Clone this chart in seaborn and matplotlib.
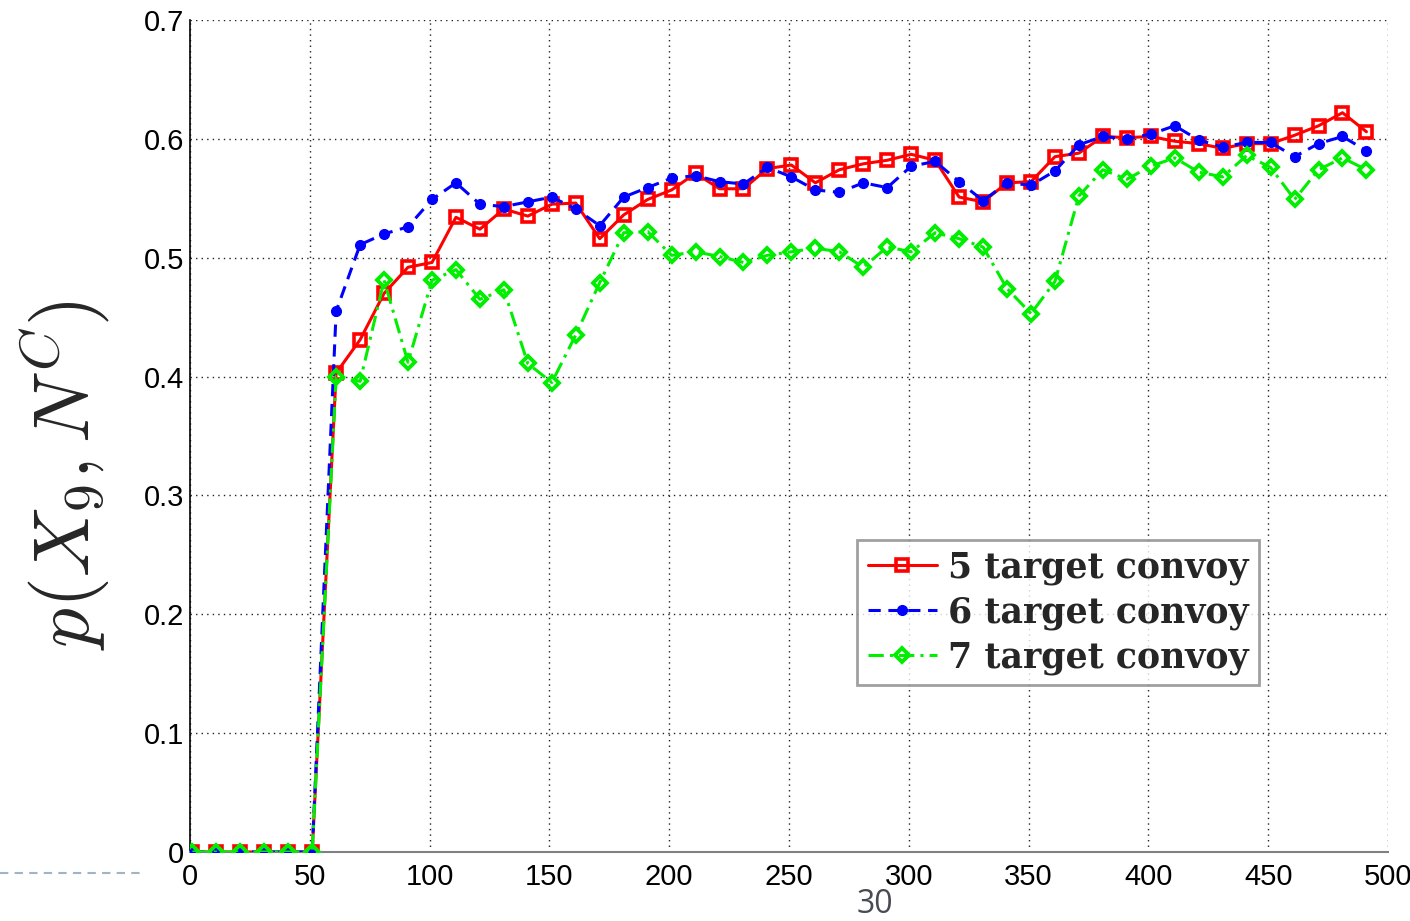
import numpy as np
import pandas as pd
import matplotlib
matplotlib.use("Agg")
import matplotlib.pyplot as plt
import seaborn as sns

# ---- data ----
time_steps = list(range(1, 492, 10))  # 1, 11, ..., 491
zeros = [0.0] * 6
convoy5 = zeros + [0.403, 0.431, 0.470, 0.492, 0.496, 0.534, 0.524, 0.541, 0.535, 0.545,
                   0.546, 0.516, 0.536, 0.549, 0.557, 0.571, 0.558, 0.558, 0.575, 0.578,
                   0.563, 0.574, 0.579, 0.582, 0.587, 0.582, 0.551, 0.547, 0.563, 0.564,
                   0.585, 0.588, 0.602, 0.601, 0.602, 0.598, 0.596, 0.592, 0.596, 0.596,
                   0.603, 0.611, 0.622, 0.606]
convoy6 = zeros + [0.455, 0.511, 0.520, 0.526, 0.549, 0.563, 0.545, 0.543, 0.547, 0.551,
                   0.541, 0.527, 0.551, 0.559, 0.567, 0.569, 0.564, 0.562, 0.576, 0.568,
                   0.557, 0.555, 0.563, 0.559, 0.577, 0.581, 0.564, 0.548, 0.563, 0.561,
                   0.573, 0.595, 0.602, 0.600, 0.604, 0.611, 0.599, 0.593, 0.597, 0.597,
                   0.585, 0.596, 0.602, 0.590]
convoy7 = zeros + [0.400, 0.396, 0.481, 0.412, 0.481, 0.490, 0.465, 0.473, 0.411, 0.395,
                   0.435, 0.479, 0.521, 0.522, 0.502, 0.505, 0.501, 0.496, 0.502, 0.505,
                   0.508, 0.505, 0.492, 0.509, 0.505, 0.521, 0.516, 0.509, 0.474, 0.453,
                   0.480, 0.552, 0.574, 0.566, 0.577, 0.584, 0.572, 0.568, 0.586, 0.576,
                   0.549, 0.574, 0.584, 0.574]
series_labels = ["5 target convoy", "6 target convoy", "7 target convoy"]
x_ticks = list(range(0, 501, 50))
y_ticks = [0, 0.1, 0.2, 0.3, 0.4, 0.5, 0.6, 0.7]
y_tick_labels = ["0", "0.1", "0.2", "0.3", "0.4", "0.5", "0.6", "0.7"]

sns.set_style("white")
plt.rcParams["font.family"] = ["Liberation Sans", "DejaVu Sans"]
plt.rcParams["mathtext.fontset"] = "cm"

fig = plt.figure(figsize=(14.1, 9.21), dpi=100)
ax = fig.add_axes([190 / 1410, 1 - 852 / 921, (1388 - 190) / 1410, (852 - 20) / 921])

styles = [
    dict(color="#ff0000", marker="s", linestyle="-", markersize=8.5, markerfacecolor="none",
         markeredgecolor="#ff0000", markeredgewidth=2.6, linewidth=2.2),
    dict(color="#0000ff", marker="o", linestyle=(0, (4, 2.5)), markersize=7, markerfacecolor="#0000ff",
         markeredgecolor="#0000ff", markeredgewidth=1, linewidth=2.2),
    dict(color="#00ee00", marker="D", linestyle=(0, (5, 2, 1, 2)), markersize=7.5, markerfacecolor="none",
         markeredgecolor="#00ee00", markeredgewidth=2.8, linewidth=2.2),
]
for vals, lab, st in zip([convoy5, convoy6, convoy7], series_labels, styles):
    sns.lineplot(x=time_steps, y=vals, ax=ax, label=lab, zorder=3, **st)

ax.set_xlim(0, 500)
ax.set_ylim(0, 0.7)
ax.set_xticks(x_ticks)
ax.set_yticks(y_ticks)
ax.set_yticklabels(y_tick_labels)
ax.tick_params(axis="both", labelsize=21, direction="in", length=6, colors="#000000")
ax.tick_params(axis="x", color="#555555", pad=8)
ax.tick_params(axis="y", pad=4)
ax.grid(True, linestyle=(0, (1, 3)), color="#222222", linewidth=1.0)
for s in ["top", "right"]:
    ax.spines[s].set_visible(False)
ax.spines["left"].set_color("#000000")
ax.spines["left"].set_linewidth(1.2)
ax.spines["bottom"].set_color("#808080")
ax.spines["bottom"].set_linewidth(1.5)
ax.set_xlabel("")
ax.set_ylabel(r"$p(X_9,N^C)$", fontsize=57)
ax.yaxis.set_label_coords(-0.065, 0.453)

leg = ax.legend(loc="lower left", bbox_to_anchor=(0.557, 0.2007), borderaxespad=0,
                prop={"family": "DejaVu Serif", "weight": "bold", "size": 25},
                frameon=True, fancybox=False, handlelength=2.0, handletextpad=0.3,
                labelspacing=0.3, borderpad=0.3)
leg.get_frame().set_edgecolor("#888888")
leg.get_frame().set_linewidth(2)

# slide decorations
fig.add_artist(plt.Line2D([0, 140 / 1410], [1 - 873 / 921, 1 - 873 / 921],
                          color="#a0b4c8", linestyle=(0, (4, 3)), linewidth=1.5))
fig.text(875 / 1410, 1 - 904 / 921, "30", color="#4a4a55", fontsize=23,
         ha="center", va="center", family="Open Sans")

fig.savefig("out.png", dpi=100)
